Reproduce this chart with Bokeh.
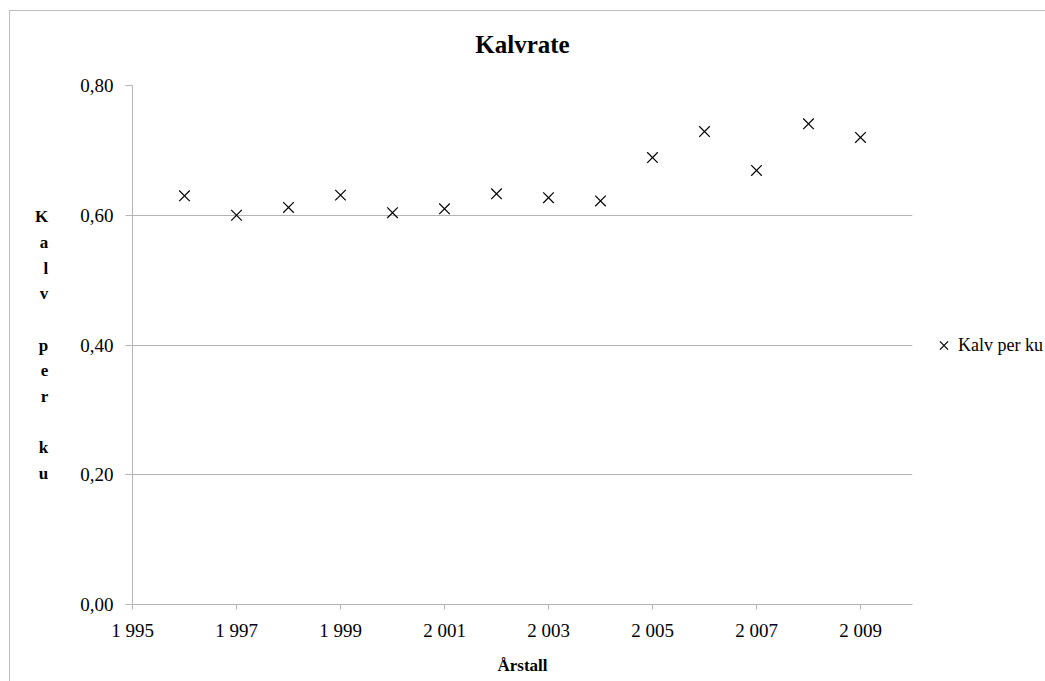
from bokeh.plotting import figure
from bokeh.models import FixedTicker, Legend, LegendItem, Range1d
from bokeh.embed import file_html
from bokeh.resources import INLINE

# ---- data ----
years = [1996, 1997, 1998, 1999, 2000, 2001, 2002, 2003, 2004, 2005, 2006, 2007, 2008, 2009]
kalv_per_ku = [0.630, 0.600, 0.612, 0.631, 0.604, 0.610, 0.633, 0.627, 0.622, 0.689, 0.729, 0.669, 0.741, 0.720]
x_ticks = [1995, 1997, 1999, 2001, 2003, 2005, 2007, 2009]
x_tick_labels = ["1 995", "1 997", "1 999", "2 001", "2 003", "2 005", "2 007", "2 009"]
y_ticks = [0.0, 0.2, 0.4, 0.6, 0.8]
y_tick_labels = ["0,00", "0,20", "0,40", "0,60", "0,80"]
series_name = "Kalv per ku"
title_text = "Kalvrate"
x_label = "Årstall"
y_label_stacked = "K\na\nl\nv\n\np\ne\nr\n\nk\nu"

FONT = "'Liberation Serif', 'Times New Roman', serif"
GRID = "#b4b4b4"

p = figure(
    width=1045, height=681,
    frame_width=780, frame_height=519,
    min_border_left=132, min_border_right=133,
    min_border_top=85, min_border_bottom=77,
    x_range=Range1d(1995, 2010), y_range=Range1d(0, 0.8),
    output_backend="svg", toolbar_location=None,
    title=title_text,
)
p.outline_line_color = None
p.background_fill_color = "white"
p.border_fill_color = "white"
# chart-area border: only its top and left edges fall inside the window
p.stylesheets = [
    ":host { position: relative; }"
    ":host::after { content: ''; position: absolute; left: 9px; top: 10px; right: 0; bottom: 0;"
    " border-top: 1px solid #bdbdbd; border-left: 1px solid #bdbdbd; pointer-events: none; z-index: 10; }"
]

# title
p.title.align = "center"
p.title.text_font = FONT
p.title.text_font_size = "25px"
p.title.text_font_style = "bold"
p.title.text_color = "black"
p.title.standoff = 56

# x axis
p.xaxis.ticker = FixedTicker(ticks=x_ticks)
p.xaxis.major_label_overrides = {t: l for t, l in zip(x_ticks, x_tick_labels)}
p.xaxis.minor_tick_line_color = None
p.xaxis.major_tick_in = 0
p.xaxis.major_tick_out = 5
p.xaxis.major_tick_line_color = GRID
p.xaxis.axis_line_color = GRID
p.xaxis.major_label_text_font = FONT
p.xaxis.major_label_text_font_size = "19px"
p.xaxis.major_label_text_font_style = "normal"
p.xaxis.major_label_text_color = "black"
p.xaxis.major_label_standoff = 10
p.xaxis.axis_label = x_label
p.xaxis.axis_label_text_font = FONT
p.xaxis.axis_label_text_font_size = "17px"
p.xaxis.axis_label_text_font_style = "bold"
p.xaxis.axis_label_text_color = "black"
p.xaxis.axis_label_standoff = 12

# y axis
p.yaxis.ticker = FixedTicker(ticks=y_ticks)
p.yaxis.major_label_overrides = {t: l for t, l in zip(y_ticks, y_tick_labels)}
p.yaxis.minor_tick_line_color = None
p.yaxis.major_tick_in = 0
p.yaxis.major_tick_out = 7
p.yaxis.major_tick_line_color = GRID
p.yaxis.axis_line_color = GRID
p.yaxis.major_label_text_font = FONT
p.yaxis.major_label_text_font_size = "19px"
p.yaxis.major_label_text_font_style = "normal"
p.yaxis.major_label_text_color = "black"
p.yaxis.major_label_standoff = 12
p.yaxis.axis_label = y_label_stacked
p.yaxis.axis_label_orientation = "horizontal"
p.yaxis.axis_label_text_font = FONT
p.yaxis.axis_label_text_font_size = "17px"
p.yaxis.axis_label_text_font_style = "bold"
p.yaxis.axis_label_text_color = "black"
p.yaxis.axis_label_text_line_height = 1.35
p.yaxis.axis_label_standoff = 29

# grid
p.xgrid.grid_line_color = None
p.ygrid.grid_line_color = GRID
p.ygrid.ticker = FixedTicker(ticks=y_ticks[1:])

# markers
r = p.scatter(years, kalv_per_ku, marker="x", size=15, line_color="black", line_width=1.2)

legend = Legend(items=[LegendItem(label=series_name, renderers=[r])],
                location="center_left", orientation="vertical")
legend.margin = 17
legend.padding = 0
legend.glyph_width = 29
legend.glyph_height = 29
legend.label_standoff = 0
legend.border_line_color = None
legend.background_fill_alpha = 0
legend.label_text_font = FONT
legend.label_text_font_size = "18px"
legend.label_text_font_style = "normal"
legend.label_text_color = "black"
p.add_layout(legend, "right")

open("out.html", "w").write(file_html(p, INLINE))
